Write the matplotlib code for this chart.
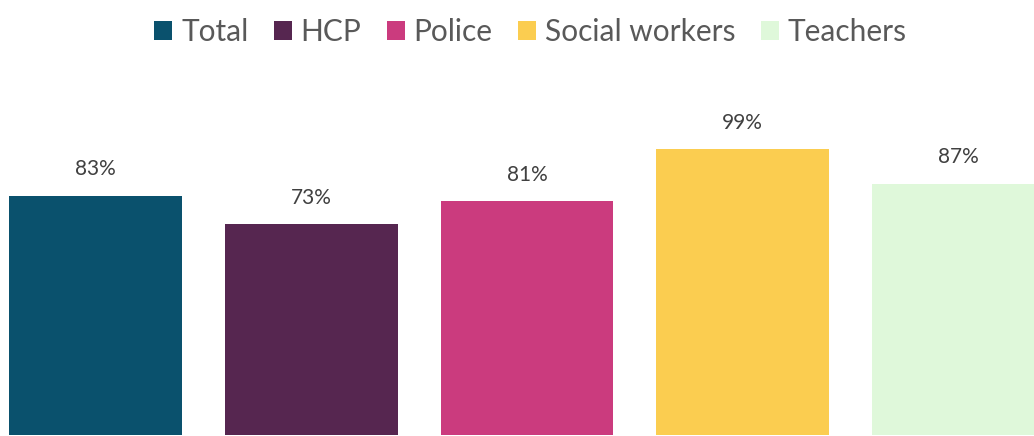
"""Share of respondents by professional group, bar chart with top legend."""
import matplotlib
matplotlib.use("Agg")
import matplotlib.pyplot as plt
import numpy as np

GROUPS = ["Total", "HCP", "Police", "Social workers", "Teachers"]
VALUES = [83, 73, 81, 99, 87]
COLORS = ["#0A516D", "#562650", "#CB3B7E", "#FBCD50", "#DFF8DA"]

plt.rcParams["font.family"] = ["Lato", "DejaVu Sans"]

fig = plt.figure(figsize=(10.34, 4.36), dpi=100)
ax = fig.add_axes([0, 0, 1, 1])

x = np.arange(len(GROUPS))
bars = ax.bar(x, VALUES, width=0.8, color=COLORS, label=GROUPS)

for xi, val in zip(x, VALUES):
    ax.annotate(f"{val}%", (xi, val), xytext=(0, 12), textcoords="offset points",
                ha="center", va="bottom", fontsize=15, color="#404040")

ax.set_xlim(-0.443, 4.351)
ax.set_ylim(-0.35, 150.8)
ax.axis("off")

ax.legend(handles=list(bars), labels=GROUPS, loc="upper center",
          bbox_to_anchor=(0.513, 1.02), ncol=5, frameon=False, fontsize=21.5,
          handlelength=0.6, handleheight=0.6, handletextpad=0.3,
          columnspacing=0.85, labelcolor="#595959")

fig.savefig("out.png", dpi=100)
